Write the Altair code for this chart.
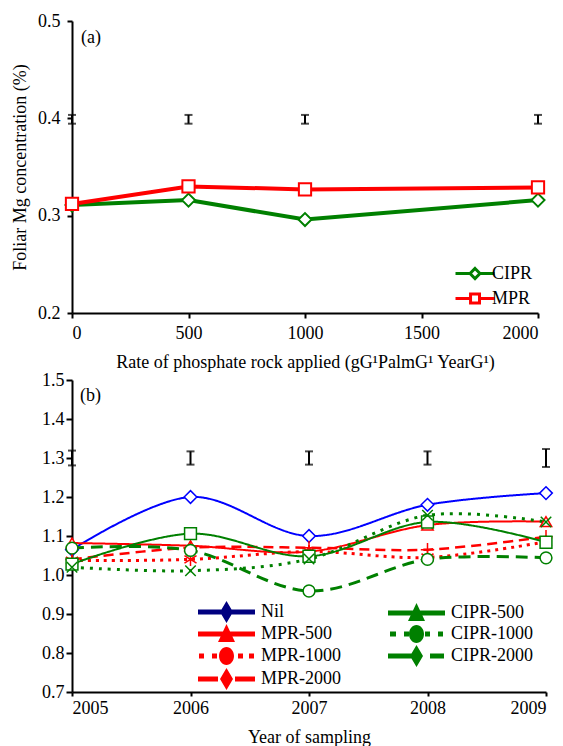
import altair as alt
import pandas as pd

FONT = "Liberation Serif, Times New Roman, serif"

# ---------------- panel (a) data ----------------
rates = [0, 500, 1000, 2000]
series_a = ["CIPR", "MPR"]
cipr_a = [0.311, 0.316, 0.296, 0.316]
mpr_a = [0.312, 0.330, 0.327, 0.329]
err_a_rate = [0, 500, 1000, 2000]
err_a_mid = [0.399, 0.399, 0.399, 0.399]
err_a_half = [0.0045, 0.0045, 0.0045, 0.0045]

# ---------------- panel (b) data ----------------
years = [2005, 2006, 2007, 2008, 2009]
series_b = ["Nil", "MPR-500", "MPR-1000", "MPR-2000", "CIPR-500", "CIPR-1000", "CIPR-2000"]
nil_b = [1.065, 1.200, 1.100, 1.180, 1.210]
mpr500_b = [1.082, 1.075, 1.060, 1.128, 1.137]
mpr1000_b = [1.037, 1.040, 1.060, 1.045, 1.085]
mpr2000_b = [1.040, 1.070, 1.070, 1.065, 1.098]
cipr500_b = [1.028, 1.106, 1.048, 1.136, 1.084]
cipr1000_b = [1.020, 1.011, 1.041, 1.153, 1.136]
cipr2000_b = [1.069, 1.063, 0.959, 1.040, 1.044]
err_b_year = [2005, 2006, 2007, 2008, 2009]
err_b_mid = [1.300, 1.300, 1.300, 1.300, 1.300]
err_b_half = [0.019, 0.017, 0.017, 0.017, 0.023]

panel_labels = ["(a)", "(b)"]

# ---------------- styles ----------------
GREEN = "#008000"
RED = "#ff0000"
BLUE = "#0000ff"
NAVY = "#000080"
FS = 18

df_a = pd.DataFrame({
    "rate": rates * 2,
    "value": cipr_a + mpr_a,
    "series": ["CIPR"] * len(rates) + ["MPR"] * len(rates),
})
err_a = pd.DataFrame({
    "rate": err_a_rate,
    "value": [m - h for m, h in zip(err_a_mid, err_a_half)],
    "value2": [m + h for m, h in zip(err_a_mid, err_a_half)],
})

vals_b = [nil_b, mpr500_b, mpr1000_b, mpr2000_b, cipr500_b, cipr1000_b, cipr2000_b]
df_b = pd.DataFrame({
    "year": years * len(series_b),
    "value": [v for vs in vals_b for v in vs],
    "series": [s for s in series_b for _ in years],
})
err_b = pd.DataFrame({
    "year": err_b_year,
    "value": [m - h for m, h in zip(err_b_mid, err_b_half)],
    "value2": [m + h for m, h in zip(err_b_mid, err_b_half)],
})

# ---------------- panel (a) ----------------
xa = alt.X("rate:Q", scale=alt.Scale(domain=[0, 2000], nice=False),
           axis=alt.Axis(values=[0, 500, 1000, 1500, 2000], format="d",
                         title="Rate of phosphate rock applied (gG\u00b9PalmG\u00b9 YearG\u00b9)",
                         labelPadding=6, titlePadding=11, tickSize=5))
ya = alt.Y("value:Q", scale=alt.Scale(domain=[0.2, 0.5], nice=False, zero=False),
           axis=alt.Axis(values=[0.2, 0.3, 0.4, 0.5], format=".1f",
                         title="Foliar  Mg concentration (%)",
                         labelPadding=7, titlePadding=8, tickSize=5))

a_colors = [GREEN, RED]
a_shapes = ["diamond", "square"]
a_sizes = [170, 150]
layers_a = []
for s, c in zip(series_a, a_colors):
    layers_a.append(
        alt.Chart(df_a).transform_filter(alt.datum.series == s)
        .mark_line(color=c, strokeWidth=4).encode(x=xa, y=ya)
    )
for s, c, shp, sz in zip(series_a, a_colors, a_shapes, a_sizes):
    layers_a.append(
        alt.Chart(df_a).transform_filter(alt.datum.series == s)
        .mark_point(shape=shp, filled=True, fill="white", stroke=c, strokeWidth=2,
                    size=sz, opacity=1).encode(x=xa, y=ya)
    )
layers_a.append(
    alt.Chart(err_a).mark_errorbar(ticks=True, thickness=2, size=8, color="black")
    .encode(x=xa, y=ya, y2="value2:Q")
)
leg_a_paths = [
    "M-1,0H0.82M2.06,0H3.875M1.44,-0.625L2.06,0L1.44,0.625L0.82,0Z",
    "M-1,0H0.88M2.0,0H3.875M0.88,-0.56H2.0V0.56H0.88Z",
]
leg_a = alt.Legend(title=None, orient="none", legendX=382, legendY=243,
                   labelFont=FONT, labelFontSize=FS, labelColor="black",
                   labelOffset=19, symbolStrokeWidth=3, rowPadding=3,
                   symbolSize=256)
layers_a.append(
    alt.Chart(df_a).transform_filter("false")
    .mark_point(filled=False, strokeWidth=3, size=256, opacity=1)
    .encode(
        x=xa, y=ya,
        stroke=alt.Stroke("series:N", scale=alt.Scale(domain=series_a, range=a_colors), legend=leg_a),
        shape=alt.Shape("series:N", scale=alt.Scale(domain=series_a, range=leg_a_paths), legend=leg_a),
    )
)
label_a = alt.Chart(pd.DataFrame({"t": panel_labels[:1]})).mark_text(
    font=FONT, fontSize=FS, align="left", baseline="middle", color="black").encode(
    text="t:N", x=alt.value(9), y=alt.value(17))
layers_a.append(label_a)

chart_a = alt.layer(*layers_a).properties(width=466, height=292)

# ---------------- panel (b) ----------------
xb = alt.X("year:Q", scale=alt.Scale(domain=[2005, 2009], nice=False),
           axis=alt.Axis(values=years, format="d", title="Year of sampling",
                         labelPadding=3, titlePadding=11, tickSize=4))
yb = alt.Y("value:Q", scale=alt.Scale(domain=[0.7, 1.5], nice=False, zero=False),
           axis=alt.Axis(values=[0.7, 0.8, 0.9, 1.0, 1.1, 1.2, 1.3, 1.4, 1.5], format=".1f",
                         title=None, labelPadding=2, tickSize=6))

b_colors = [BLUE, RED, RED, RED, GREEN, GREEN, GREEN]
b_dash = [[1, 0], [1, 0], [3, 5], [10, 6], [1, 0], [3, 6], [12, 7]]
b_width = [2, 2, 3, 2.5, 2, 3, 3]
X_PATH = "M-1,-1L1,1M-1,1L1,-1"
AST_PATH = "M0,-1V1M-0.9,-0.55L0.9,0.55M-0.9,0.55L0.9,-0.55"
PLUS_PATH = "M-1,0H1M0,-1V1"
b_shapes = ["diamond", "triangle-up", AST_PATH, PLUS_PATH, "square", X_PATH, "circle"]
b_sizes = [160, 130, 180, 180, 140, 110, 140]

layers_b = []
for s, c, d, w in zip(series_b, b_colors, b_dash, b_width):
    layers_b.append(
        alt.Chart(df_b).transform_filter(alt.datum.series == s)
        .mark_line(color=c, strokeDash=d, strokeWidth=w, interpolate="cardinal")
        .encode(x=xb, y=yb)
    )
for s, c, shp, sz in zip(series_b, b_colors, b_shapes, b_sizes):
    layers_b.append(
        alt.Chart(df_b).transform_filter(alt.datum.series == s)
        .mark_point(shape=shp, filled=True, fill="white", stroke=c, strokeWidth=1.5,
                    size=sz, opacity=1).encode(x=xb, y=yb)
    )
layers_b.append(
    alt.Chart(err_b).mark_errorbar(ticks=True, thickness=2, size=8, color="black")
    .encode(x=xb, y=yb, y2="value2:Q")
)

# ---- legend glyphs for panel (b): filled line pieces + filled marker ----
SYM_SIZE = 100          # unit = sqrt(100)/2 = 5 px, symbol centre 5 px from left
U = 5.0


def ux(px):
    return round((px - 5.0) / U, 3)


def uy(py):
    return round(py / U, 3)


def seg(x0, x1, t=2.5):
    return f"M{ux(x0)},{uy(-t)}H{ux(x1)}V{uy(t)}H{ux(x0)}Z"


def dia(cx=28.5, h=11, w=6.5):
    return f"M{ux(cx)},{uy(-h)}L{ux(cx + w)},0L{ux(cx)},{uy(h)}L{ux(cx - w)},0Z"


def tri(cx=28.5, a=10, b=8, w=8.5):
    return f"M{ux(cx)},{uy(-a)}L{ux(cx + w)},{uy(b)}L{ux(cx - w)},{uy(b)}Z"


def cir(cx=28.5, rx=7.5, ry=9):
    rxu, ryu = round(rx / U, 3), round(ry / U, 3)
    return (f"M{ux(cx - rx)},0A{rxu},{ryu} 0 1,1 {ux(cx + rx)},0"
            f"A{rxu},{ryu} 0 1,1 {ux(cx - rx)},0Z")


SOLID = [(0, 57)]
MPR_DOT = [(1, 6), (14, 19), (40, 45), (51, 56)]
CIPR_DOT = [(2, 8), (16, 21), (37, 42), (50, 55)]
MPR_DASH = [(0, 20), (37, 57)]
CIPR_DASH = [(0, 24), (42, 56)]
leg_b_segs = [SOLID, SOLID, MPR_DOT, MPR_DASH, SOLID, CIPR_DOT, CIPR_DASH]
leg_b_marks = [dia(), tri(), cir(), dia(), tri(), cir(), dia()]
leg_b_paths = ["".join(seg(a, b) for a, b in segs) + m for segs, m in zip(leg_b_segs, leg_b_marks)]
leg_b_colors = [NAVY, RED, RED, RED, GREEN, GREEN, GREEN]

leg_b = alt.Legend(title=None, orient="none", legendX=122, legendY=223, columns=2,
                   columnPadding=42, rowPadding=1,
                   labelFont=FONT, labelFontSize=FS, labelColor="black",
                   labelOffset=49, symbolStrokeWidth=0, symbolSize=SYM_SIZE)
layers_b.append(
    alt.Chart(df_b).transform_filter("false")
    .mark_point(filled=True, strokeWidth=0, size=SYM_SIZE, opacity=1)
    .encode(
        x=xb, y=yb,
        fill=alt.Fill("series:N", scale=alt.Scale(domain=series_b, range=leg_b_colors), legend=leg_b),
        shape=alt.Shape("series:N", scale=alt.Scale(domain=series_b, range=leg_b_paths), legend=leg_b),
    )
)
label_b = alt.Chart(pd.DataFrame({"t": panel_labels[1:]})).mark_text(
    font=FONT, fontSize=FS, align="left", baseline="middle", color="black").encode(
    text="t:N", x=alt.value(8), y=alt.value(16))
layers_b.append(label_b)

chart_b = alt.layer(*layers_b).properties(width=474, height=312)

chart = alt.vconcat(chart_a, chart_b, spacing=0).resolve_scale(
    stroke="independent", shape="independent", fill="independent", strokeDash="independent",
    x="independent", y="independent",
).resolve_legend(
    stroke="independent", shape="independent", fill="independent", strokeDash="independent",
).properties(
    padding={"left": 11, "top": 12, "right": 0, "bottom": 0}
).configure_view(stroke=None).configure_axis(
    grid=False, domainColor="black", domainWidth=2, tickColor="black", tickWidth=2,
    labelFont=FONT, labelFontSize=FS, labelColor="black",
    titleFont=FONT, titleFontSize=FS, titleFontWeight="normal", titleColor="black",
).configure_legend(labelFont=FONT)

chart.save("out.html", embed_options={"renderer": "svg", "actions": False})
